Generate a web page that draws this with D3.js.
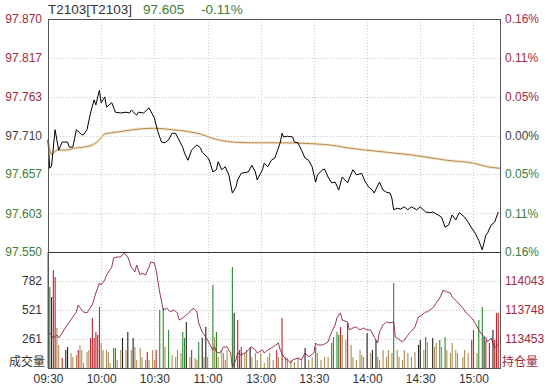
<!DOCTYPE html>
<html>
<head>
<meta charset="utf-8">
<script src="https://cdn.jsdelivr.net/npm/d3@7"></script>
<style>
  body { margin: 0; background: #fff; }
  svg text { font-family: "Liberation Sans", Arial, "Noto Sans CJK SC", sans-serif; font-size: 12px; }
</style>
</head>
<body>
<div id="container"></div>
<script>
// time axis (minutes since 09:30, lunch break removed)
const timeTicks = [0, 30, 60, 90, 120, 150, 180, 210, 240];
const timeLabels = ["09:30", "10:00", "10:30", "11:00", "13:00", "13:30", "14:00", "14:30", "15:00"];

const priceTicks = [97.870, 97.817, 97.763, 97.710, 97.657, 97.603, 97.550];
const pctLabels = ["0.16%", "0.11%", "0.05%", "0.00%", "0.05%", "0.11%", "0.16%"];
const prevClose = 97.710;

const volTicks = [782, 521, 261];
const oiTicks = [114043, 113748, 113453];

// price line
const priceMin = [0,1,2,4,6,8,11,12,14,16,19,20,22,24,26,27,29,30,32,33,36,38,41,44,46,47,50,51,54,57,
  60,62,64,66,68,70,72,73,76,77,79,81,84,86,87,90,91,93,95,96,98,100,102,104,106,107,109,113,115,117,118,
  121,122,124,126,128,129,131,132,133,135,138,139,141,143,145,147,149,151,152,155,156,158,160,162,164,166,
  169,172,174,177,179,181,183,184,187,189,191,193,194,195,197,199,201,203,205,208,210,213,216,217,220,222,
  224,226,228,230,232,235,237,239,241,243,245,247,248,250,252,254];
const prices = [97.704,97.665,97.668,97.718,97.690,97.701,97.701,97.694,97.694,97.718,97.711,97.711,97.718,97.741,97.759,97.752,97.772,97.755,97.763,97.749,97.755,97.742,97.741,97.742,97.741,97.745,97.738,97.742,97.741,97.748,
  97.734,97.715,97.701,97.700,97.704,97.713,97.713,97.708,97.694,97.686,97.676,97.690,97.697,97.693,97.687,97.680,97.676,97.660,97.663,97.674,97.663,97.667,97.656,97.631,97.639,97.649,97.658,97.660,97.669,97.660,97.649,
  97.663,97.672,97.667,97.676,97.679,97.686,97.700,97.713,97.708,97.709,97.708,97.701,97.700,97.690,97.679,97.676,97.667,97.646,97.656,97.663,97.664,97.653,97.645,97.646,97.635,97.653,
  97.645,97.663,97.656,97.658,97.646,97.639,97.635,97.631,97.646,97.635,97.632,97.631,97.624,97.608,97.610,97.609,97.612,97.608,97.612,97.608,97.612,97.605,97.604,97.605,97.601,97.598,
  97.584,97.587,97.601,97.594,97.604,97.598,97.591,97.583,97.576,97.566,97.553,97.573,97.576,97.587,97.591,97.605];

// average price line
const avgMin = [0,2,5,10,16,20,25,29,32,40,48,60,70,80,86,93,104,115,131,159,169,191,206,225,240,248,255];
const avgPrices = [97.704,97.684,97.690,97.690,97.693,97.694,97.697,97.704,97.712,97.715,97.718,97.720,97.718,97.715,97.712,97.706,97.701,97.700,97.700,97.697,97.693,97.687,97.683,97.676,97.672,97.667,97.665];

// volume bars: r = red, g = green, k = black, t = tan
const volMin = [0,1,2,3,4,5,6,8,10,11,13,14,16,17,18,19,20,22,23,24,25,26,27,28,29,30,31,33,34,35,37,38,39,41,42,44,45,47,48,49,50,52,53,55,56,57,59,60,61,
  63,65,66,68,70,72,73,75,76,77,78,80,81,83,84,85,87,88,89,90,93,94,95,96,98,99,100,101,104,105,107,108,109,111,112,114,115,117,118,120,
  122,124,125,127,129,130,132,134,135,137,139,141,143,145,147,149,151,152,154,156,158,160,161,163,164,165,166,168,169,171,172,174,176,177,178,
  180,182,183,185,186,187,189,191,192,194,195,197,198,200,201,203,205,207,209,210,212,213,214,217,218,219,221,222,224,225,227,228,230,231,
  234,235,237,239,240,242,243,245,246,247,249,251,252,253,254];
const volumes = [1100,728,638,881,818,360,207,90,162,189,135,99,117,162,207,162,45,144,162,270,450,270,324,297,549,225,162,162,144,45,180,180,72,162,270,162,324,162,270,189,72,180,99,72,144,72,162,72,162,
  522,540,189,342,117,99,162,135,324,270,414,99,162,90,72,234,270,99,369,99,746,279,324,99,162,135,72,162,908,495,432,162,189,135,162,189,99,135,72,135,
  45,99,135,72,162,99,450,99,90,72,54,90,72,180,72,99,189,135,72,99,99,225,279,324,297,369,297,252,405,207,99,72,162,117,99,
  315,135,162,252,99,72,162,99,162,135,764,162,99,72,162,135,99,144,207,252,162,279,234,270,189,225,252,189,279,162,135,225,162,135,
  99,162,135,252,342,135,432,549,279,252,225,342,252,495,495];
const volDir = ("ggkrrttr" + "kk" + "tttrttttt" + "rrrrrr" + "ttttt" + "gg" + "tt" + "ktktk" + "ttttt" + "r" + "ttt" + "r" +
  "ggtgtttt" + "ggk" + "tr" + "tt" + "g" + "ktkt" + "gtg" + "ttttt" + "gk" + "rrr" + "tt" + "k" + "tttt" +
  "tttt" + "rtr" + "tttttt" + "k" + "tt" + "g" + "tttt" + "gggg" + "r" + "tt" + "r" + "tttttt" +
  "ktk" + "k" + "tttttt" + "g" + "ttttttt" + "kk" + "t" + "g" + "t" + "k" + "tt" + "g" + "t" + "g" + "ttttt" +
  "tttrrtggkrrkrrr").split("");

// open interest line
const oiMin = [1,3,5,6,8,10,12,14,16,17,19,20,22,23,25,27,29,30,32,33,36,37,39,41,43,45,46,47,49,50,52,53,55,57,58,60,61,63,65,67,69,71,73,74,76,78,80,82,84,85,87,89,90,
  93,94,95,97,99,101,103,104,106,107,109,111,113,115,117,118,121,122,124,127,130,131,133,135,137,138,141,143,145,147,150,151,152,155,158,160,162,163,165,166,169,170,172,174,176,178,180,182,184,186,187,189,191,193,195,196,197,200,201,204,207,209,211,213,214,217,219,221,223,225,227,228,231,234,236,239,241,243,245,247,248,250,252,254];
const openInterest = [113514,113463,113494,113463,113514,113575,113626,113677,113728,113799,113748,113728,113718,113748,113799,113921,114023,114002,114053,114104,114185,114277,114287,114287,114328,114287,114236,114185,114135,114206,114104,114124,114104,114185,114236,114226,114155,113930,113748,113768,113728,113748,113718,113646,113667,113697,113728,113768,113728,113616,113524,113473,113443,
  113341,113372,113321,113311,113372,113372,113311,113168,113240,113311,113290,113311,113341,113372,113341,113311,113341,113311,113341,113372,113412,113341,113270,113240,113209,113240,113260,113240,113311,113270,113311,113412,113392,113392,113423,113524,113596,113667,113718,113646,113626,113545,113565,113575,113545,113565,113545,113545,113473,113412,113524,113596,113626,113616,113626,113473,113463,113423,113443,113514,113575,113677,113697,113728,113728,113768,113819,113870,113951,113931,113921,113880,113829,113768,113718,113667,113616,113545,113494,113463,113423,113463,113362,113400];

const W = 549, H = 388;
const padL = 48, padR = 500, padT = 19, padMid = 252, padB = 368;

const svg = d3.select("#container").append("svg")
  .attr("width", W).attr("height", H);

const x = d3.scaleLinear().domain([0, 255]).range([padL, padR]);
const y = d3.scaleLinear().domain([97.550, 97.870]).range([padMid, padT]);
const yVol = d3.scaleLinear().domain([0, 1043]).range([padB, padMid]).clamp(true);
const yOi = d3.scaleLinear().domain([113158, 114338]).range([padB, padMid]);

const red = "#a02a3c", green = "#3d7d3d", grey = "#444";
const labelColor = (v) => Math.abs(v - prevClose) < 1e-6 ? grey : (v > prevClose ? red : green);

// grid
const grid = svg.append("g").attr("stroke", "#c8c8c8").attr("stroke-dasharray", "1,2").attr("shape-rendering", "crispEdges");
grid.selectAll(".hp").data(priceTicks).join("line").attr("class", "hp")
  .attr("x1", padL).attr("x2", padR).attr("y1", d => Math.round(y(d)) + 0.5).attr("y2", d => Math.round(y(d)) + 0.5);
grid.selectAll(".hv").data(volTicks).join("line").attr("class", "hv")
  .attr("x1", padL).attr("x2", padR).attr("y1", d => Math.round(yVol(d)) + 0.5).attr("y2", d => Math.round(yVol(d)) + 0.5);
grid.selectAll(".vt").data(timeTicks.slice(1)).join("line").attr("class", "vt")
  .attr("x1", d => Math.round(x(d)) + 0.5).attr("x2", d => Math.round(x(d)) + 0.5).attr("y1", padT).attr("y2", padB);

// volume bars
const barColor = { r: "#c0242c", g: "#2f8a2f", k: "#222", t: "#ad8e52" };
svg.append("g").selectAll("rect").data(volMin).join("rect")
  .attr("x", d => x(d) - 0.5)
  .attr("width", 1.1)
  .attr("y", (d, i) => yVol(volumes[i]))
  .attr("height", (d, i) => padB - yVol(volumes[i]))
  .attr("fill", (d, i) => barColor[volDir[i]] || barColor.t);

// open interest
svg.append("path")
  .datum(oiMin)
  .attr("fill", "none").attr("stroke", "#8e2043").attr("stroke-width", 0.9)
  .attr("d", d3.line().x(d => x(d)).y((d, i) => yOi(openInterest[i])));

// average price
const avgLine = d3.line().curve(d3.curveMonotoneX).x(d => x(d)).y((d, i) => y(avgPrices[i]));
svg.append("path").datum(avgMin)
  .attr("fill", "none").attr("stroke", "#f8e8d2").attr("stroke-width", 3)
  .attr("d", avgLine);
svg.append("path").datum(avgMin)
  .attr("fill", "none").attr("stroke", "#b48a50").attr("stroke-width", 1)
  .attr("d", avgLine);

// price
svg.append("path")
  .datum(priceMin)
  .attr("fill", "none").attr("stroke", "#000").attr("stroke-width", 1)
  .attr("d", d3.line().x(d => x(d)).y((d, i) => y(prices[i])));

// frame
svg.append("rect").attr("x", padL + 0.5).attr("y", padT + 0.5)
  .attr("width", padR - padL).attr("height", padB - padT)
  .attr("fill", "none").attr("stroke", "#555").attr("shape-rendering", "crispEdges");
svg.append("line").attr("x1", padL).attr("x2", padR).attr("y1", padMid + 0.5).attr("y2", padMid + 0.5)
  .attr("stroke", "#333").attr("shape-rendering", "crispEdges");

// axes
const axL = svg.append("g").attr("transform", `translate(${padL - 3},0)`)
  .call(d3.axisLeft(y).tickValues(priceTicks).tickSize(0).tickFormat(d3.format(".3f")));
axL.selectAll("text").attr("fill", d => labelColor(d));
const axR = svg.append("g").attr("transform", `translate(${padR + 2},0)`)
  .call(d3.axisRight(y).tickValues(priceTicks).tickSize(0).tickFormat((d, i) => pctLabels[i]));
axR.selectAll("text").attr("fill", d => labelColor(d));

const axV = svg.append("g").attr("transform", `translate(${padL - 3},0)`)
  .call(d3.axisLeft(yVol).tickValues(volTicks).tickSize(0));
axV.selectAll("text").attr("fill", "#333");
const axO = svg.append("g").attr("transform", `translate(${padR + 2},0)`)
  .call(d3.axisRight(yOi).tickValues(oiTicks).tickSize(0).tickFormat(d3.format("d")));
axO.selectAll("text").attr("fill", red);

const axB = svg.append("g").attr("transform", `translate(0,${padB + 3})`)
  .call(d3.axisBottom(x).tickValues(timeTicks).tickSize(0).tickFormat((d, i) => timeLabels[i]));
axB.selectAll("text").attr("fill", "#333");

svg.selectAll(".domain").remove();
svg.selectAll(".tick text").style("font-size", "12px").style("font-family", "'Liberation Sans', Arial, sans-serif");

svg.append("text").attr("x", padL - 3).attr("y", 366).attr("text-anchor", "end")
  .attr("fill", "#333").text("成交量");
svg.append("text").attr("x", padR + 2).attr("y", 366)
  .attr("fill", red).text("持仓量");

// title
const title = svg.append("text").attr("y", 14).style("font-size", "13.5px");
title.append("tspan").attr("x", padL).attr("fill", "#333").text("T2103[T2103]");
title.append("tspan").attr("x", 143).attr("fill", green).text("97.605");
title.append("tspan").attr("x", 201).attr("fill", green).text("-0.11%");
</script>
</body>
</html>
